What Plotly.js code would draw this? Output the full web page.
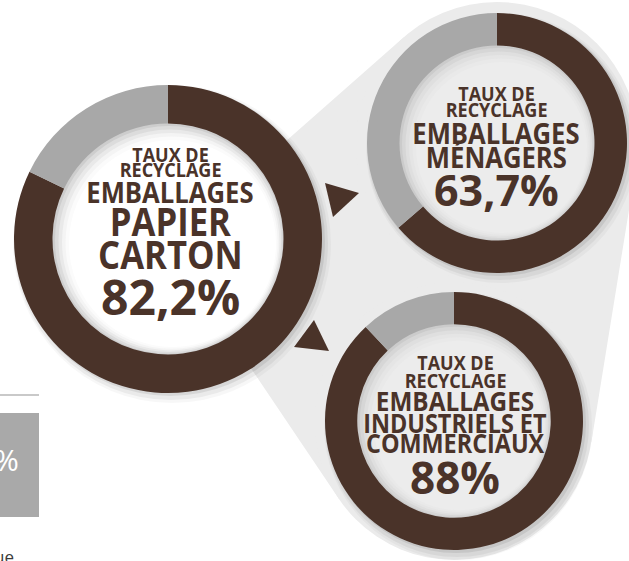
<!DOCTYPE html>
<html>
<head>
<meta charset="utf-8">
<script src="https://cdn.plot.ly/plotly-3.0.1.min.js"></script>
<style>
html,body{margin:0;padding:0;background:#fff;}
#chart{width:629px;height:561px;}
#chart text.annotation-text{transform-box:fill-box;transform-origin:center;transform:scaleX(0.9);}
#chart g[data-index="5"] text.annotation-text,
#chart g[data-index="10"] text.annotation-text,
#chart g[data-index="16"] text.annotation-text,
#chart g[data-index="17"] text.annotation-text,
#chart g[data-index="18"] text.annotation-text{transform:none;}
</style>
</head>
<body>
<div id="chart"></div>
<script>
// ---- data ----
const donutNames = ["Emballages papier carton", "Emballages ménagers", "Emballages industriels et commerciaux"];
const recycledRates = [82.2, 63.7, 88];
const rateLabels = ["82,2%", "63,7%", "88%"];
const segmentNames = ["Recyclé", "Non recyclé"];
const titleLines = [
  ["TAUX DE", "RECYCLAGE", "EMBALLAGES", "PAPIER", "CARTON"],
  ["TAUX DE", "RECYCLAGE", "EMBALLAGES", "MÉNAGERS"],
  ["TAUX DE", "RECYCLAGE", "EMBALLAGES", "INDUSTRIELS ET", "COMMERCIAUX"]
];
const sideLabels = ["%", "ue"];

// ---- layout constants ----
const W = 629, H = 561;
const BROWN = "#4a3329", GRAY = "#a8a8a8", LIGHT = "#ebebeb";
const FONT = "Open Sans";
const geo = [
  {cx: 168, cy: 239, r: 154, dir: "clockwise"},
  {cx: 497, cy: 143, r: 130, dir: "counterclockwise"},
  {cx: 454, cy: 421, r: 129, dir: "clockwise"}
];
const HOLE = 0.75;
const textStyle = [
  {x: 170, ys: [154.5, 170, 192, 221.5, 254], sizes: [20, 20, 28.5, 38.5, 38.5], rateY: 296, rateSize: 48},
  {x: 496, ys: [93.5, 110, 132.5, 157], sizes: [20, 20, 28.5, 28.5], rateY: 189, rateSize: 43},
  {x: 455, ys: [362.5, 380, 400, 422.5, 442.5], sizes: [20, 20, 27, 26, 26], rateY: 477, rateSize: 44}
];

function X(px) { return px / W; }
function Y(py) { return 1 - py / H; }
function circ(cx, cy, r, fill) {
  return {type: "circle", xref: "paper", yref: "paper", layer: "below",
    x0: X(cx - r), x1: X(cx + r), y0: Y(cy + r), y1: Y(cy - r),
    fillcolor: fill, line: {width: 0}};
}
function pathOf(pts, fill, layer) {
  let d = pts.map((p, i) => (i ? "L" : "M") + X(p[0]) + "," + Y(p[1])).join(" ") + " Z";
  return {type: "path", xref: "paper", yref: "paper", layer: layer || "below", path: d,
    fillcolor: fill, line: {width: 0}};
}
function tangentPoint(P, C, r, sign) {
  const dx = C[0] - P[0], dy = C[1] - P[1];
  const d = Math.hypot(dx, dy);
  const a = Math.asin(r / d) * sign;
  const L = Math.sqrt(d * d - r * r);
  const th = Math.atan2(dy, dx) + a;
  return [P[0] + L * Math.cos(th), P[1] + L * Math.sin(th)];
}

const shapes = [];
const P = [168, 245];
const bgTR = {c: [497, 143], r: 141};
const bgBR = {c: [454, 421], r: 139};
const tTR = tangentPoint(P, bgTR.c, bgTR.r, -1);
const tBR = tangentPoint(P, bgBR.c, bgBR.r, 1);
const ux = bgBR.c[0] - bgTR.c[0], uy = bgBR.c[1] - bgTR.c[1];
const ul = Math.hypot(ux, uy);
const nx = -uy / ul, ny = ux / ul;
const nSign = nx > 0 ? 1 : -1;
shapes.push(pathOf([P, tTR, bgTR.c,
  [bgTR.c[0] + nSign * nx * bgTR.r, bgTR.c[1] + nSign * ny * bgTR.r],
  [bgBR.c[0] + nSign * nx * bgBR.r, bgBR.c[1] + nSign * ny * bgBR.r],
  bgBR.c, tBR], LIGHT));
shapes.push(circ(bgTR.c[0], bgTR.c[1], bgTR.r, LIGHT));
shapes.push(circ(bgBR.c[0], bgBR.c[1], bgBR.r, LIGHT));

geo.forEach((g, i) => {
  shapes.push(circ(g.cx + 4, g.cy + 5, g.r + 5, "rgba(0,0,0,0.03)"));
  shapes.push(circ(g.cx + 3, g.cy + 4, g.r + 3, "rgba(0,0,0,0.05)"));
  shapes.push(circ(g.cx + 2, g.cy + 2, g.r + 1, "rgba(0,0,0,0.08)"));
  const hr = g.r * HOLE + 1;
  const shades = i === 0 ? ["#cdcdcd", "#dcdcdc", "#e9e9e9", "#f4f4f4", "#fbfbfb", "#ffffff"]
                         : ["#cbcbcb", "#d6d6d6", "#dfdfdf", "#e5e5e5", "#e9e9e9", "#ececec"];
  shades.forEach((c, k) => {
    const off = k * 0.9;
    shapes.push(circ(g.cx + off, g.cy + off, hr - k * 2.6, c));
  });
});

shapes.push(pathOf([[325, 183], [359, 193], [333, 217]], BROWN, "above"));
shapes.push(pathOf([[314, 320], [294, 347], [329, 351]], BROWN, "above"));
shapes.push({type: "line", xref: "paper", yref: "paper", layer: "below",
  x0: X(0), x1: X(39), y0: Y(395), y1: Y(395), line: {color: "#c9c9c9", width: 2}});
shapes.push({type: "rect", xref: "paper", yref: "paper", layer: "below",
  x0: X(0), x1: X(39), y0: Y(517), y1: Y(413), fillcolor: "#a9a9a9", line: {width: 0}});

const traces = geo.map((g, i) => ({
  type: "pie",
  name: donutNames[i],
  labels: segmentNames,
  values: [recycledRates[i], +(100 - recycledRates[i]).toFixed(1)],
  hole: HOLE,
  sort: false,
  direction: g.dir,
  rotation: 0,
  textinfo: "none",
  hoverinfo: "label+value",
  showlegend: false,
  marker: {colors: [BROWN, GRAY], line: {width: 0}},
  domain: {x: [X(g.cx - g.r), X(g.cx + g.r)], y: [Y(g.cy + g.r), Y(g.cy - g.r)]}
}));

const annotations = [];
textStyle.forEach((t, i) => {
  titleLines[i].forEach((line, k) => {
    annotations.push({xref: "paper", yref: "paper", x: X(t.x), y: Y(t.ys[k]),
      xanchor: "center", yanchor: "middle", showarrow: false, text: line,
      font: {family: FONT, size: t.sizes[k], color: BROWN, weight: 700}});
  });
  annotations.push({xref: "paper", yref: "paper", x: X(t.x), y: Y(t.rateY),
    xanchor: "center", yanchor: "middle", showarrow: false, text: rateLabels[i],
    font: {family: FONT, size: t.rateSize, color: BROWN, weight: 700}});
});
annotations.push({xref: "paper", yref: "paper", x: X(21), y: Y(459), xanchor: "right", yanchor: "middle",
  showarrow: false, text: sideLabels[0], font: {family: FONT, size: 30, color: "#ffffff"}});
annotations.push({xref: "paper", yref: "paper", x: X(16), y: Y(556), xanchor: "right", yanchor: "middle",
  showarrow: false, text: sideLabels[1], font: {family: FONT, size: 17, color: "#3a3a3a"}});

const layout = {
  width: W, height: H,
  margin: {l: 0, r: 0, t: 0, b: 0, pad: 0},
  paper_bgcolor: "#ffffff", plot_bgcolor: "#ffffff",
  showlegend: false,
  shapes: shapes,
  annotations: annotations
};
Plotly.newPlot("chart", traces, layout, {displayModeBar: false, staticPlot: true});
</script>
</body>
</html>
